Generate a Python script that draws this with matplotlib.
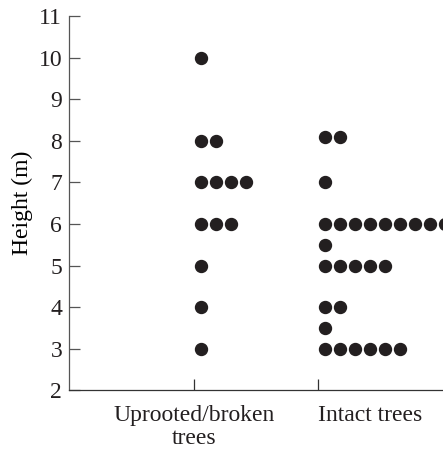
import numpy as np
import matplotlib.pyplot as plt

plt.rcParams['font.family'] = ['Liberation Serif', 'DejaVu Serif']
plt.rcParams['text.color'] = '#231f20'
plt.rcParams['xtick.labelcolor'] = '#231f20'
plt.rcParams['ytick.labelcolor'] = '#231f20'

# Dot plot data: height level and how many trees at that level
categories = ['Uprooted/broken\ntrees', 'Intact trees']
uprooted_heights = [10, 8, 7, 6, 5, 4, 3]
uprooted_counts = [1, 2, 4, 3, 1, 1, 1]
intact_heights = [8.1, 7, 6, 5.5, 5, 4, 3.5, 3]
intact_counts = [2, 1, 9, 1, 5, 2, 1, 6]

fig = plt.figure(figsize=(4.43, 4.5), dpi=100)
ax = fig.add_axes([0.156, 0.133, 0.844, 0.831])

step = 0.12      # horizontal spacing between stacked dots
start = 0.056    # first dot offset from category tick

groups = [(uprooted_heights, uprooted_counts), (intact_heights, intact_counts)]
for i, (heights, counts) in enumerate(groups):
    xs, ys = [], []
    for h, c in zip(heights, counts):
        for k in range(c):
            xs.append(i + 1 + start + k * step)
            ys.append(h)
    ax.plot(xs, ys, 'o', color='#231f20', markersize=8.6, linestyle='none')

fs = 17
ax.set_xlim(0, 3)
ax.set_ylim(2, 11)
ax.set_yticks(range(2, 12))
ax.set_xticks([1, 2])
labels = ax.set_xticklabels(categories, fontsize=fs, linespacing=1.1)
# the second label starts at its tick rather than centred on it
labels[1].set_horizontalalignment('left')
ax.set_ylabel('Height (m)', fontsize=fs, labelpad=4)

ax.tick_params(axis='y', direction='in', length=8, width=0.9, labelsize=fs,
               pad=5, color='#555555')
ax.tick_params(axis='x', direction='in', length=8, width=0.9, labelsize=fs,
               pad=11, color='#333333')
for s in ['top', 'right']:
    ax.spines[s].set_visible(False)
ax.spines['left'].set_color('#555555')
ax.spines['bottom'].set_color('#333333')
ax.spines['left'].set_linewidth(0.9)
ax.spines['bottom'].set_linewidth(0.9)

fig.savefig('out.png', dpi=100)
